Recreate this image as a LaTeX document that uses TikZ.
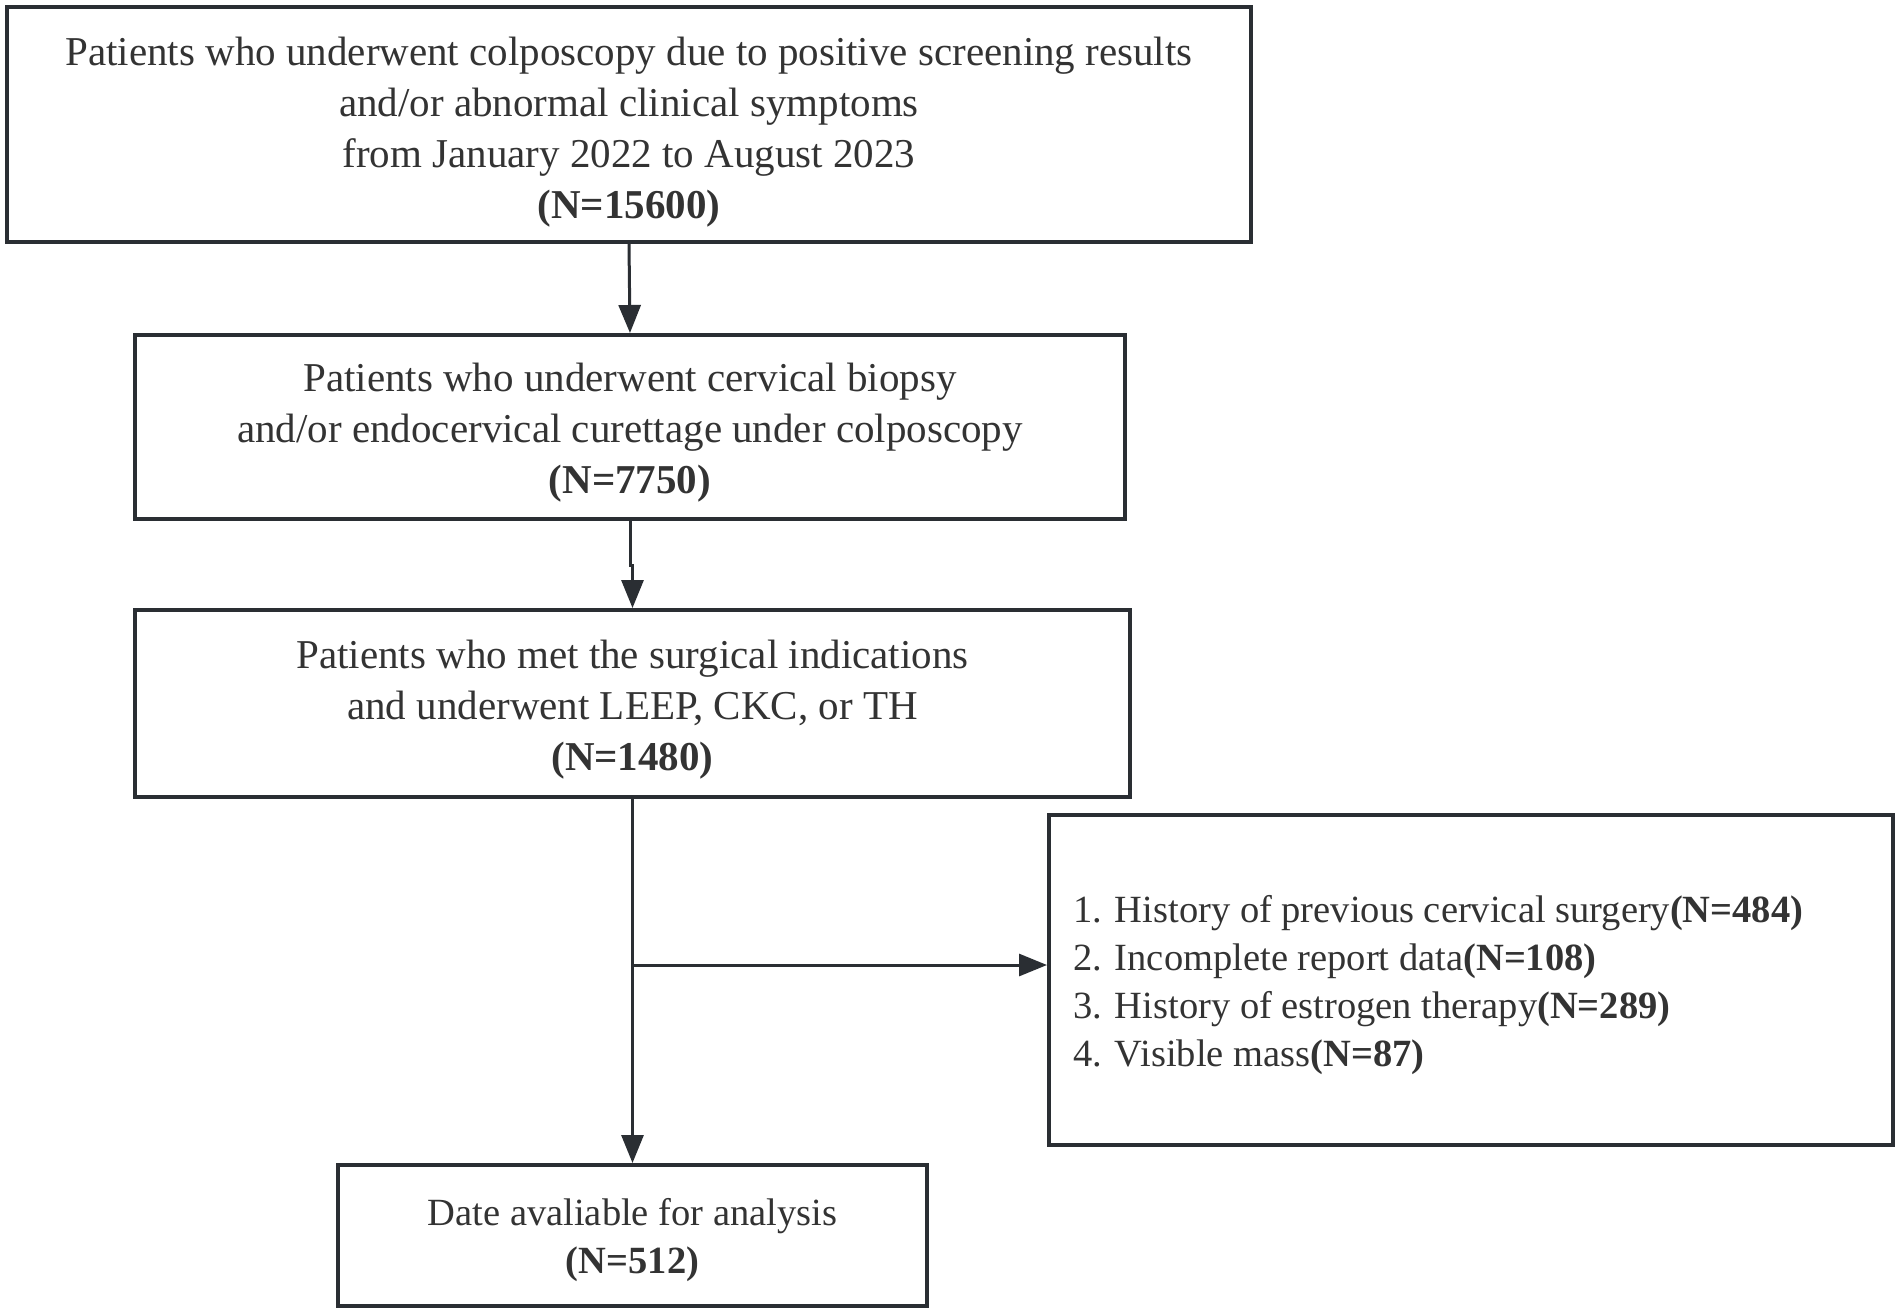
\documentclass[tikz,border=0pt]{standalone}
\usepackage{fontspec}
\setmainfont{Liberation Serif}
\usetikzlibrary{arrows.meta,calc}
\definecolor{ln}{HTML}{2A2E33}
\definecolor{tx}{HTML}{333333}
\begin{document}
\begin{tikzpicture}[x=1pt,y=-1pt,
 box/.style={draw=ln,line width=4pt,inner sep=0pt},
 big/.style={text=tx,align=center,inner sep=0pt,font=\fontsize{41}{51}\selectfont},
 small/.style={text=tx,inner sep=0pt,font=\fontsize{38.5}{48}\selectfont},
 arr/.style={draw=ln,line width=3pt,-{Triangle[length=28pt,width=22pt]}}]
\useasboundingbox[fill=white] (0,0) rectangle (1901,1315);
\node[box,minimum width=1244pt,minimum height=235pt] (b1) at (629,124.5) {};
\node[big,yshift=-8pt] (t1) at (b1.center)
 {Patients who underwent colposcopy due to positive screening results\\and/or abnormal clinical symptoms\\from January 2022 to August 2023\\\textbf{(N=15600)}};
\node[box,minimum width=990pt,minimum height=184pt] (b2) at (630,427) {};
\node[big,yshift=-6pt] (t2) at (b2.center)
 {Patients who underwent cervical biopsy\\and/or endocervical curettage under colposcopy\\\textbf{(N=7750)}};
\node[box,minimum width=995pt,minimum height=187pt] (b3) at (632.5,703.5) {};
\node[big,yshift=-6pt] (t3) at (b3.center)
 {Patients who met the surgical indications\\and underwent LEEP, CKC, or TH\\\textbf{(N=1480)}};
\node[box,minimum width=844pt,minimum height=330pt] (b4) at (1471,980) {};
\node[small,align=left,anchor=west,yshift=-3pt] (t4) at (1073,982)
 {1. History of previous cervical surgery\textbf{(N=484)}\\2. Incomplete report data\textbf{(N=108)}\\3. History of estrogen therapy\textbf{(N=289)}\\4. Visible mass\textbf{(N=87)}};
\node[box,minimum width=589pt,minimum height=141pt] (b5) at (632.5,1235.5) {};
\node[small,align=center,yshift=-5pt] (t5) at (b5.center)
 {Date avaliable for analysis\\\textbf{(N=512)}};
\coordinate (br) at (632.5,965);
\draw[arr] (b1.south) -- (b2.north);
\draw[arr] (b2.south) -- ++(0,44) -| (b3.north);
\draw[arr] (b3.south) -- (b5.north);
\draw[arr] (br) -- (br -| b4.west);
\end{tikzpicture}
\end{document}
